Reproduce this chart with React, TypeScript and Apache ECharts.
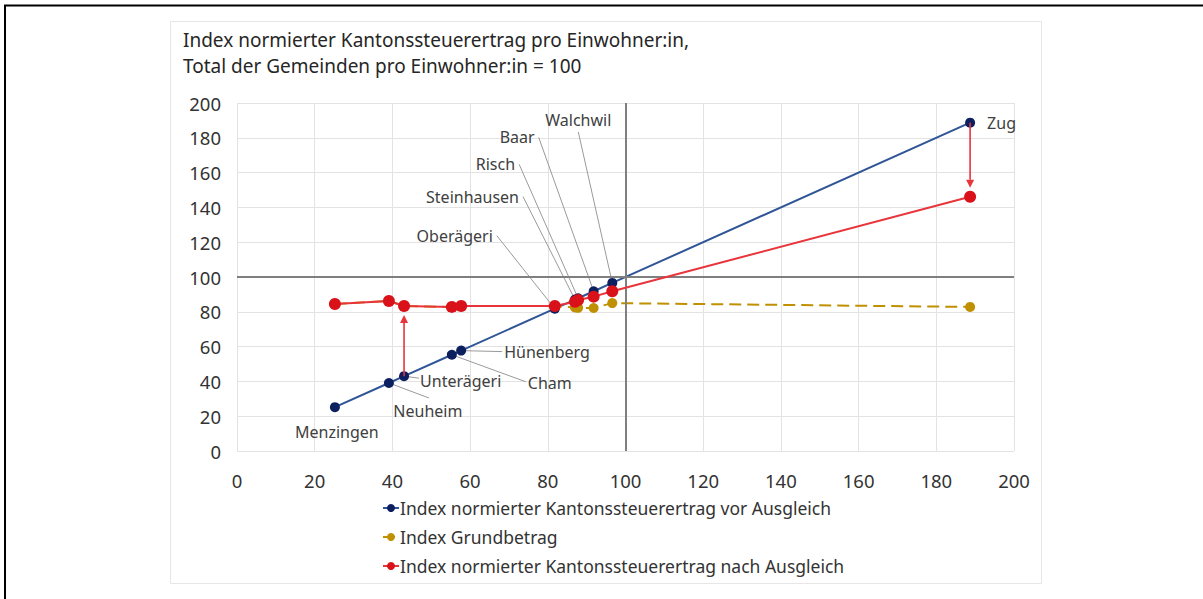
import React, { useEffect, useRef } from "react";
import * as echarts from "echarts";

// ---------- data ----------
const NAMES = ["Menzingen", "Neuheim", "Unterägeri", "Cham", "Hünenberg", "Oberägeri", "Steinhausen", "Risch", "Baar", "Walchwil", "Zug"];
// Index normierter Kantonssteuerertrag vor Ausgleich (x-axis value and blue y value)
const VOR = [25.2, 39.1, 43.0, 55.3, 57.7, 81.8, 87.0, 87.8, 91.8, 96.6, 188.7];
// Index Grundbetrag
const GRUND = [84.5, 86.2, 83.3, 82.8, 83.3, 83.3, 82.5, 82.3, 82.2, 85.0, 82.8];
// Index normierter Kantonssteuerertrag nach Ausgleich
const NACH = [84.5, 86.2, 83.3, 82.8, 83.3, 83.3, 85.8, 86.8, 88.7, 91.8, 146.1];
const ARROW_INDICES = [2, 10];
const CROSS = 100;
const X_TICKS = { min: 0, max: 200, interval: 20 };
const Y_TICKS = { min: 0, max: 200, interval: 20 };

const SERIES_NAMES = [
  "Index normierter Kantonssteuerertrag vor Ausgleich",
  "Index Grundbetrag",
  "Index normierter Kantonssteuerertrag nach Ausgleich",
];
const TITLE = "Index normierter Kantonssteuerertrag pro Einwohner:in,\nTotal der Gemeinden pro Einwohner:in = 100";

// ---------- label layout (pixel offsets from the blue point) ----------
type LL = { dx: number; dy: number; align: string; line: number[] | null };
const LABEL_LAYOUT: LL[] = [
  { dx: 2, dy: 25, align: "center", line: null },
  { dx: 39, dy: 28, align: "center", line: [40, 15] },
  { dx: 16, dy: 5, align: "left", line: [15, 2] },
  { dx: 76, dy: 28, align: "left", line: [74, 27] },
  { dx: 43, dy: 1, align: "left", line: [41, 1] },
  { dx: -62, dy: -73, align: "right", line: [-58, -73] },
  { dx: -56, dy: -103, align: "right", line: [-52, -103] },
  { dx: -63, dy: -134, align: "right", line: [-59, -134] },
  { dx: -59, dy: -154, align: "right", line: [-55, -154] },
  { dx: -34, dy: -163, align: "center", line: [-34, -151] },
  { dx: 17, dy: 0, align: "left", line: null },
];

const FONT = '"Noto Sans", "Open Sans", sans-serif';
const BLUE_LINE = "#2f5597";
const BLUE_MARK = "#0c1f5e";
const GOLD = "#bf9000";
const RED_LINE = "#e8343b";
const RED_MARK = "#d9121a";

export default function App() {
  const ref = useRef<HTMLDivElement>(null);

  useEffect(() => {
    document.body.style.margin = "0";
    if (!ref.current) return;
    const chart = echarts.init(ref.current, undefined, { renderer: "svg" });

    const bluePts = VOR.map((v, i) => [v, VOR[i]]);
    const goldPts = VOR.map((v, i) => [v, GRUND[i]]);
    const redPts = VOR.map((v, i) => [v, NACH[i]]);
    const arrowData = ARROW_INDICES.map((i) => [VOR[i], VOR[i], NACH[i]]);

    const axisLabel = { fontSize: 18.5, color: "#333", fontFamily: FONT };
    const split = { show: true, lineStyle: { color: "#e3e3e3", width: 1 } };

    chart.setOption({
      animation: false,
      textStyle: { fontFamily: FONT },
      title: {
        text: TITLE,
        left: 178,
        top: 22,
        textStyle: { fontSize: 19, fontWeight: "normal", color: "#262626", lineHeight: 26, fontFamily: FONT },
      },
      graphic: [
        { type: "rect", shape: { x: 170.5, y: 21.5, width: 871, height: 562 }, style: { fill: "none", stroke: "#e6e6e6", lineWidth: 1 }, silent: true },
        { type: "line", shape: { x1: 4, y1: 5.5, x2: 1203, y2: 5.5 }, style: { stroke: "#000", lineWidth: 2 }, silent: true },
        { type: "line", shape: { x1: 5, y1: 5, x2: 5, y2: 599 }, style: { stroke: "#000", lineWidth: 2 }, silent: true },
      ],
      legend: {
        orient: "vertical",
        left: 377,
        top: 493,
        itemGap: 9,
        itemWidth: 16,
        itemHeight: 10,
        data: SERIES_NAMES,
        textStyle: { fontSize: 17.5, lineHeight: 20, color: "#333", fontFamily: FONT, padding: [0, 0, 0, -4] },
      },
      grid: { left: 237, right: 189, top: 103, bottom: 148, containLabel: false },
      xAxis: {
        type: "value",
        ...X_TICKS,
        axisLine: { show: false },
        axisTick: { show: false },
        axisLabel: { ...axisLabel, margin: 20 },
        splitLine: split,
      },
      yAxis: {
        type: "value",
        ...Y_TICKS,
        axisLine: { show: false },
        axisTick: { show: false },
        axisLabel: { ...axisLabel, margin: 16 },
        splitLine: split,
      },
      series: [
        {
          name: "annotations",
          type: "custom",
          data: bluePts,
          encode: { x: 0, y: 1 },
          clip: false,
          z: 1,
          silent: true,
          renderItem: (params: any, api: any) => {
            const i = params.dataIndex;
            const p = api.coord([api.value(0), api.value(1)]);
            const L = LABEL_LAYOUT[i];
            const children: any[] = [];
            if (L.line) {
              children.push({
                type: "line",
                shape: { x1: p[0], y1: p[1], x2: p[0] + L.line[0], y2: p[1] + L.line[1] },
                style: { stroke: "#9a9a9a", lineWidth: 1 },
              });
            }
            children.push({
              type: "text",
              x: p[0] + L.dx,
              y: p[1] + L.dy,
              style: {
                text: NAMES[i],
                fill: "#404040",
                font: `16px ${FONT}`,
                align: L.align,
                verticalAlign: "middle",
              },
            });
            return { type: "group", children };
          },
        },
        {
          name: SERIES_NAMES[0],
          type: "line",
          data: bluePts,
          z: 3,
          symbol: "circle",
          symbolSize: 10,
          lineStyle: { color: BLUE_LINE, width: 2 },
          itemStyle: { color: BLUE_MARK },
          markLine: {
            silent: true,
            symbol: "none",
            label: { show: false },
            lineStyle: { color: "#7f7f7f", width: 2, type: "solid" },
            data: [{ xAxis: CROSS }, { yAxis: CROSS }],
          },
        },
        {
          name: SERIES_NAMES[1],
          type: "line",
          data: goldPts,
          z: 4,
          symbol: "circle",
          symbolSize: 10,
          lineStyle: { color: GOLD, width: 2, type: [12, 6] },
          itemStyle: { color: GOLD },
        },
        {
          name: SERIES_NAMES[2],
          type: "line",
          data: redPts,
          z: 5,
          symbol: "circle",
          symbolSize: 12,
          lineStyle: { color: RED_LINE, width: 2 },
          itemStyle: { color: RED_MARK },
        },
        {
          name: "arrows",
          type: "custom",
          data: arrowData,
          encode: { x: 0, y: [1, 2] },
          clip: false,
          z: 6,
          silent: true,
          renderItem: (params: any, api: any) => {
            const x = api.value(0);
            const p1 = api.coord([x, api.value(1)]);
            const p2 = api.coord([x, api.value(2)]);
            const dir = p2[1] > p1[1] ? 1 : -1;
            const tipY = p2[1] - dir * 9;
            const baseY = tipY - dir * 8;
            return {
              type: "group",
              children: [
                {
                  type: "line",
                  shape: { x1: p1[0], y1: p1[1], x2: p1[0], y2: baseY },
                  style: { stroke: RED_LINE, lineWidth: 1.6 },
                },
                {
                  type: "polygon",
                  shape: { points: [[p1[0], tipY], [p1[0] - 4, baseY], [p1[0] + 4, baseY]] },
                  style: { fill: RED_LINE },
                },
              ],
            };
          },
        },
      ],
    });

    return () => chart.dispose();
  }, []);

  return <div ref={ref} style={{ width: 1203, height: 599 }} />;
}
